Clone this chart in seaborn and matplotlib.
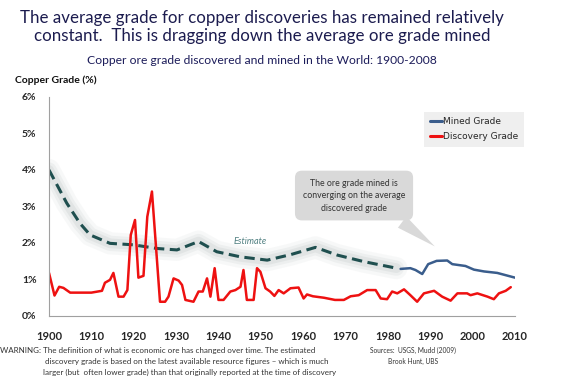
import matplotlib
matplotlib.use('Agg')
import matplotlib.pyplot as plt
import seaborn as sns
import pandas as pd

# discovery grade (%)
disc_years = [1900, 1901.3, 1902.4, 1903.4, 1905, 1910, 1912.5, 1913.2, 1914.4, 1915.2,
              1916.4, 1917.6, 1918.5, 1919.3, 1920.3, 1921.1, 1922.3, 1923.2, 1924.3, 1926.2,
              1927.4, 1928.2, 1929.4, 1930.6, 1931.4, 1932.2, 1934.1, 1935.3, 1936.3, 1937.3,
              1938.1, 1939.1, 1940, 1941.2, 1942.8, 1944, 1945.2, 1945.9, 1946.7, 1948.3,
              1949.1, 1949.9, 1951.1, 1952.2, 1953.2, 1954.2, 1955.4, 1957, 1958.9, 1960.1,
              1960.9, 1962.3, 1964.9, 1967.5, 1969.6, 1971.2, 1973.1, 1975.1, 1977.1, 1978.3,
              1979.8, 1981, 1982.2, 1983.8, 1985.3, 1986.9, 1988.5, 1990.9, 1992.8, 1994.8,
              1996.4, 1998.7, 1999.5, 2001.1, 2003.5, 2005, 2006.2, 2007.8, 2009]
disc_grade = [1.18, 0.56, 0.80, 0.77, 0.64, 0.64, 0.69, 0.91, 0.99, 1.18,
              0.53, 0.53, 0.71, 2.22, 2.63, 1.05, 1.10, 2.72, 3.41, 0.39,
              0.39, 0.53, 1.03, 0.97, 0.85, 0.44, 0.39, 0.67, 0.67, 1.03,
              0.53, 1.31, 0.44, 0.44, 0.67, 0.71, 0.80, 1.26, 0.44, 0.44,
              1.31, 1.21, 0.76, 0.67, 0.55, 0.71, 0.62, 0.76, 0.78, 0.48,
              0.59, 0.54, 0.50, 0.44, 0.44, 0.54, 0.57, 0.71, 0.71, 0.48,
              0.46, 0.67, 0.62, 0.73, 0.57, 0.39, 0.62, 0.69, 0.53, 0.42,
              0.62, 0.62, 0.57, 0.62, 0.53, 0.46, 0.62, 0.69, 0.79]

# estimated mined grade (dashed part)
est_years = [1900, 1904.2, 1907.3, 1909.7, 1914.4, 1919.9, 1925.5, 1930.2, 1935.3,
             1939.6, 1945.2, 1951.5, 1957, 1962.9, 1968, 1974.3, 1982]
est_grade = [4.0, 3.09, 2.54, 2.22, 1.99, 1.95, 1.85, 1.81, 2.04,
             1.76, 1.62, 1.53, 1.68, 1.88, 1.67, 1.49, 1.31]

# mined grade
mined_years = [1983, 1985.3, 1986.5, 1988.1, 1989.5, 1991.5, 1994, 1995.2, 1998.3,
               2000.3, 2002.7, 2005.8, 2010]
mined_grade = [1.29, 1.31, 1.26, 1.15, 1.42, 1.51, 1.52, 1.42, 1.37,
               1.27, 1.22, 1.18, 1.05]

x_ticks = list(range(1900, 2011, 10))
y_ticks = [0, 1, 2, 3, 4, 5, 6]

sns.set_style('white')
plt.rcParams['font.family'] = ['Lato', 'DejaVu Sans']

disc_df = pd.DataFrame({'year': disc_years, 'grade': disc_grade})
est_df = pd.DataFrame({'year': est_years, 'grade': est_grade})
mined_df = pd.DataFrame({'year': mined_years, 'grade': mined_grade})

fig = plt.figure(figsize=(5.62, 3.92), dpi=100)
ax = fig.add_axes([0.0872, 0.1939, 0.8292, 0.5587])

# soft glow behind the estimate line
for lw, a in [(16, 0.07), (11, 0.10), (7, 0.14)]:
    sns.lineplot(data=est_df, x='year', y='grade', ax=ax, color='#9aa6a6',
                 linewidth=lw, alpha=a, solid_capstyle='round')
sns.lineplot(data=est_df, x='year', y='grade', ax=ax, color='#1f4f4f',
             linewidth=2.2, dashes=False, linestyle=(0, (3.4, 1.8)))
sns.lineplot(data=mined_df, x='year', y='grade', ax=ax, color='#3a5d8c',
             linewidth=1.8, label='Mined Grade')
sns.lineplot(data=disc_df, x='year', y='grade', ax=ax, color='#ee1111',
             linewidth=1.8, label='Discovery Grade')

ax.set_xlim(1900, 2010)
ax.set_ylim(0, 6)
ax.set_xticks(x_ticks)
ax.set_xticklabels([str(t) for t in x_ticks], fontweight='bold', fontsize=8)
ax.set_yticks(y_ticks)
ax.set_yticklabels([f'{t}%' for t in y_ticks], fontweight='bold', fontsize=7.5)
ax.set_xlabel('')
ax.set_ylabel('')
ax.tick_params(axis='both', length=3, color='#a0a0a0', direction='out', pad=6)
ax.tick_params(axis='x', pad=8)
for s in ['top', 'right']:
    ax.spines[s].set_visible(False)
for s in ['left', 'bottom']:
    ax.spines[s].set_color('#a0a0a0')
    ax.spines[s].set_linewidth(0.8)

ax.text(1947.5, 2.03, 'Estimate', fontsize=6.5, style='italic', color='#4f7f80',
        ha='center', va='center')

leg = ax.legend(loc='upper right', bbox_to_anchor=(0.94, 0.727), bbox_transform=fig.transFigure,
                frameon=True, handlelength=1.4, handletextpad=0.1,
                borderpad=0.6, labelspacing=0.7,
                prop={'family': ['Liberation Sans Narrow', 'DejaVu Sans'], 'size': 6.5})
leg.get_frame().set_facecolor('#ebebeb')
leg.get_frame().set_edgecolor('none')
leg.get_frame().set_boxstyle('square', pad=0)
for h in leg.get_lines():
    h.set_linewidth(2.2)

ax.annotate('The ore grade mined is\nconverging on the average\ndiscovered grade',
            xy=(1991.6, 1.86), xytext=(1972, 3.3), ha='center', va='center',
            fontsize=6.3, color='#333333', linespacing=1.5,
            bbox=dict(boxstyle='round,pad=0.9,rounding_size=0.8', fc='#d9d9d9', ec='none'),
            arrowprops=dict(arrowstyle='wedge,tail_width=1.6,shrink_factor=0.5',
                            fc='#d9d9d9', ec='none', relpos=(0.8, 0.1)))

fig.text(0.466, 0.975, 'The average grade for copper discoveries has remained relatively\n'
         'constant.  This is dragging down the average ore grade mined',
         ha='center', va='top', fontsize=12.2, color='#1c1c4f', linespacing=1.15)
fig.text(0.466, 0.845, 'Copper ore grade discovered and mined in the World: 1900-2008',
         ha='center', va='center', fontsize=8.7, color='#1c1c5a')
fig.text(0.027, 0.795, 'Copper Grade (%)', ha='left', va='center', fontsize=7.5,
         fontweight='bold', color='#111111')

fig.text(0.0, 0.107, 'WARNING: The definition of what is economic ore has changed over time. The estimated',
         ha='left', va='center', fontsize=5.8, color='#333333')
fig.text(0.08, 0.079, 'discovery grade is based on the latest available resource figures \u2013 which is much',
         ha='left', va='center', fontsize=5.8, color='#333333')
fig.text(0.076, 0.051, 'larger (but  often lower grade) than that originally reported at the time of discovery',
         ha='left', va='center', fontsize=5.8, color='#333333')
fig.text(0.735, 0.115, 'Sources:  USGS, Mudd (2009)\nBrook Hunt, UBS', ha='center', va='top',
         fontsize=4.8, color='#333333', linespacing=1.6)

fig.savefig('out.png', dpi=100)
